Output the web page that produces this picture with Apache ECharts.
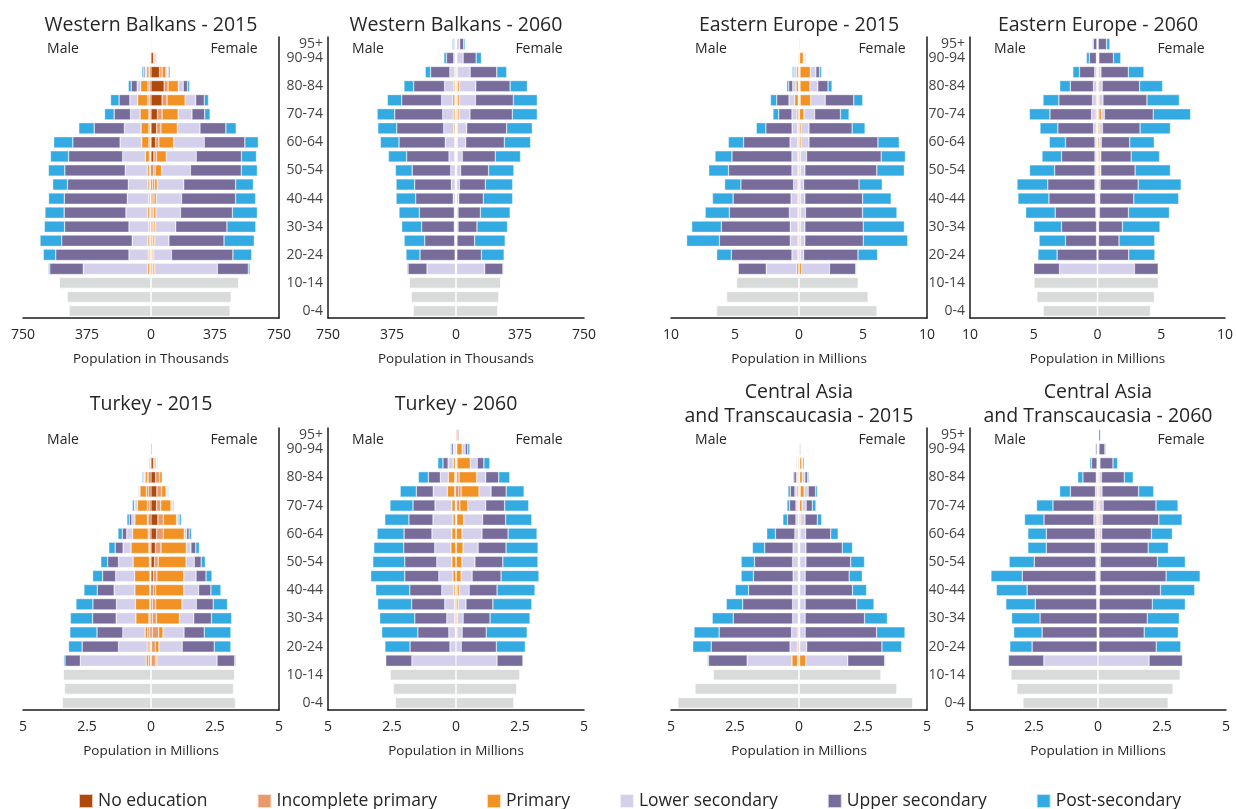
<!DOCTYPE html>
<html>
<head>
<meta charset="utf-8">
<title>Population by education</title>
<script src="https://cdn.jsdelivr.net/npm/echarts@6.0.0/dist/echarts.min.js"></script>
<style>
  html, body { margin: 0; padding: 0; background: #fff; }
  #chart { width: 1236px; height: 809px; }
</style>
</head>
<body>
<div id="chart"></div>
<script>
// age groups, bottom to top
const ages = ['0-4', '5-9', '10-14', '15-19', '20-24', '25-29', '30-34', '35-39', '40-44', '45-49',
  '50-54', '55-59', '60-64', '65-69', '70-74', '75-79', '80-84', '85-89', '90-94', '95+'];
const levels = ['No education', 'Incomplete primary', 'Primary', 'Lower secondary', 'Upper secondary', 'Post-secondary'];
const levelColors = ['#b04a0c', '#e99a6c', '#f39224', '#d4cfea', '#786c9b', '#33abe2'];
const kidsColor = '#d9dada';

// rows: 15-19 ... 95+, each [noEdu, incPrimary, primary, lowerSec, upperSec, postSec]
// Western Balkans, thousands
const wb2015Male = [
  [4,4,12,377,196,8],[4,4,8,113,429,73],[4,4,10,92,413,127],[2,4,8,115,377,119],[4,4,12,127,362,112],
  [2,4,8,125,369,92],[4,4,10,115,356,87],[4,6,12,129,354,96],[4,6,23,133,317,106],[4,8,42,127,277,112],
  [4,8,46,98,177,90],[6,6,52,56,96,56],[8,10,60,46,63,50],[8,10,42,21,35,17],[8,4,13,10,8,10],
  [2,2,5,1,2,3],[2,1,1,1,1,2]];
const wb2015Female = [
  [6,6,10,367,181,10],[4,4,8,104,360,110],[6,6,10,83,323,177],[6,8,10,121,300,169],[6,10,13,144,304,146],
  [6,12,13,148,317,117],[8,13,15,156,304,104],[12,12,38,169,298,94],[17,15,58,175,265,88],[27,19,87,179,238,79],
  [33,25,96,133,152,60],[38,27,94,81,75,31],[65,29,106,62,50,25],[77,23,60,29,25,12],[50,15,23,10,6,8],
  [15,6,8,1,3,4],[4,1,2,1,1,2]];
const wb2015Kids = { male: [481,492,538], female: [465,471,515] };

const wb2060Male = [
  [1,1,2,166,111,6],[1,1,1,2,206,82],[1,1,2,4,175,121],[1,1,2,6,191,117],[1,1,2,6,205,119],
  [1,1,2,12,220,115],[1,1,2,23,215,109],[1,1,2,27,226,98],[2,2,4,33,248,107],[2,2,4,55,271,109],
  [2,3,7,60,275,111],[2,4,10,62,281,103],[3,5,12,64,234,84],[2,3,7,55,181,57],[1,1,5,29,113,31],
  [1,1,3,8,43,15],[2,2,3,2,6,6]];
const wb2060Female = [
  [1,1,2,164,107,4],[1,1,1,2,144,133],[1,1,2,2,103,179],[1,1,2,8,111,179],[1,1,2,8,131,174],
  [1,1,2,12,144,172],[1,1,2,16,152,160],[1,1,2,23,164,148],[2,2,4,29,193,148],[2,2,4,49,226,154],
  [2,2,4,55,234,150],[2,6,10,64,248,146],[3,6,11,94,222,140],[3,6,10,97,201,101],[1,2,4,76,156,58],
  [1,1,3,37,76,31],[1,1,2,18,23,8]];
const wb2060Kids = { male: [252,263,275], female: [246,252,263] };

// Eastern Europe, millions
const ee2015Male = [
  [0.01,0.01,0.16,2.38,2.18,0],[0.01,0.01,0.06,0.47,4.74,1.14],[0.01,0.01,0.06,0.60,5.54,2.56],[0.01,0.01,0.06,0.60,5.39,2.31],
  [0.01,0.01,0.06,0.67,4.69,1.89],[0.01,0.01,0.06,0.54,4.53,1.61],[0.01,0.01,0.06,0.34,4.12,1.27],[0.01,0.01,0.06,0.47,4.95,1.55],
  [0.01,0.01,0.06,0.47,4.69,1.32],[0.01,0.02,0.07,0.60,3.63,1.19],[0.01,0.02,0.07,0.44,2.05,0.75],[0.01,0.02,0.13,0.39,1.04,0.44],
  [0.02,0.04,0.28,0.44,0.96,0.49],[0.02,0.03,0.18,0.26,0.31,0.16],[0.02,0.02,0.14,0.18,0.10,0.08],[0.01,0.01,0.06,0.03,0.03,0.02],
  [0.005,0.005,0.02,0.01,0.01,0.01]];
const ee2015Female = [
  [0.01,0.01,0.18,2.18,2.07,0.05],[0.01,0.01,0.08,0.26,4.25,1.53],[0.01,0.01,0.08,0.36,4.56,3.47],[0.01,0.01,0.08,0.36,4.56,3.21],
  [0.01,0.01,0.08,0.41,4.45,2.69],[0.01,0.01,0.08,0.36,4.51,2.23],[0.01,0.01,0.06,0.28,4.33,1.81],[0.01,0.01,0.08,0.36,5.62,2.15],
  [0.01,0.01,0.08,0.49,5.83,1.89],[0.01,0.02,0.13,0.62,5.39,1.66],[0.01,0.02,0.13,0.62,3.37,1.01],[0.01,0.03,0.35,0.83,2.02,0.67],
  [0.03,0.06,0.82,1.14,2.23,0.70],[0.03,0.05,0.77,0.62,0.80,0.31],[0.03,0.05,0.80,0.44,0.28,0.16],[0.02,0.03,0.28,0.08,0.05,0.06],
  [0.01,0.01,0.06,0.02,0.02,0.02]];
const ee2015Kids = { male: [6.45,5.67,4.90], female: [6.11,5.41,4.64] };

const ee2060Male = [
  [0.005,0.005,0.01,2.96,2.02,0],[0.005,0.005,0.01,0.02,3.13,1.50],[0.01,0.01,0.02,0.04,2.43,2.07],[0.01,0.01,0.02,0.03,2.75,2.18],
  [0.01,0.01,0.03,0.08,3.19,2.31],[0.01,0.01,0.04,0.10,3.65,2.43],[0.01,0.01,0.05,0.13,3.70,2.41],[0.01,0.01,0.05,0.13,3.16,1.97],
  [0.01,0.01,0.05,0.13,2.62,1.53],[0.01,0.01,0.05,0.13,2.31,1.27],[0.02,0.02,0.06,0.21,2.80,1.40],[0.02,0.02,0.07,0.36,3.26,1.61],
  [0.01,0.01,0.06,0.31,2.64,1.24],[0.01,0.01,0.04,0.26,1.81,0.83],[0.01,0.01,0.04,0.16,1.19,0.52],[0.005,0.005,0.02,0.06,0.55,0.23],
  [0.005,0.005,0.01,0.03,0.28,0.06]];
const ee2060Female = [
  [0.005,0.005,0.01,2.88,1.87,0.02],[0.005,0.005,0.01,0.02,2.41,2.05],[0.01,0.01,0.03,0.03,1.61,2.80],[0.01,0.01,0.03,0.03,1.87,2.95],
  [0.01,0.01,0.04,0.09,2.28,3.21],[0.01,0.02,0.05,0.10,2.67,3.52],[0.01,0.02,0.06,0.12,2.98,3.37],[0.01,0.02,0.08,0.15,2.69,2.77],
  [0.01,0.02,0.08,0.15,2.38,2.23],[0.01,0.03,0.10,0.16,2.23,1.92],[0.02,0.04,0.12,0.21,2.95,2.38],[0.03,0.08,0.20,0.23,3.83,2.93],
  [0.02,0.04,0.06,0.31,3.45,2.54],[0.01,0.02,0.06,0.28,2.93,1.81],[0.01,0.02,0.06,0.18,2.15,1.22],[0.005,0.01,0.03,0.06,1.15,0.57],
  [0.005,0.005,0.02,0.03,0.65,0.26]];
const ee2060Kids = { male: [4.27,4.77,5.00], female: [4.17,4.48,4.79] };

// Turkey, millions
const tr2015Male = [
  [0.02,0.08,0.09,2.57,0.60,0.05],[0.02,0.06,0.07,1.12,1.42,0.53],[0.05,0.08,0.10,0.87,1.01,1.06],[0.04,0.04,0.51,0.77,0.92,0.87],
  [0.03,0.02,0.56,0.74,0.92,0.66],[0.03,0.02,0.58,0.81,0.66,0.52],[0.02,0.02,0.60,0.74,0.51,0.39],[0.03,0.03,0.64,0.57,0.42,0.27],
  [0.04,0.04,0.70,0.31,0.31,0.25],[0.05,0.06,0.61,0.23,0.17,0.17],[0.08,0.06,0.49,0.12,0.10,0.09],[0.06,0.08,0.39,0.10,0.02,0.08],
  [0.08,0.10,0.25,0.04,0.01,0.03],[0.08,0.06,0.09,0.04,0.02,0.05],[0.03,0.02,0.04,0.02,0.01,0.02],[0.02,0.01,0.02,0.005,0.005,0.02],
  [0.01,0.005,0.005,0.002,0.002,0.01]];
const tr2015Female = [
  [0.01,0.16,0.06,2.35,0.69,0.04],[0.02,0.15,0.14,0.91,1.25,0.65],[0.05,0.25,0.17,0.82,0.79,1.04],[0.05,0.16,0.90,0.56,0.69,0.79],
  [0.05,0.13,1.03,0.56,0.66,0.56],[0.08,0.10,1.10,0.58,0.48,0.39],[0.09,0.14,1.05,0.48,0.39,0.23],[0.14,0.14,1.09,0.32,0.27,0.16],
  [0.17,0.22,0.99,0.18,0.19,0.14],[0.22,0.26,0.82,0.09,0.10,0.09],[0.27,0.21,0.52,0.06,0.04,0.08],[0.22,0.16,0.40,0.05,0.03,0.04],
  [0.23,0.18,0.18,0.04,0.03,0.03],[0.18,0.16,0.10,0.02,0.01,0.02],[0.10,0.05,0.05,0.02,0.01,0.03],[0.04,0.01,0.02,0.003,0.003,0.01],
  [0.02,0.01,0.01,0.002,0.002,0.01]];
const tr2015Kids = { male: [3.47,3.39,3.43], female: [3.31,3.23,3.27] };

const tr2060Male = [
  [0.001,0.001,0.001,1.72,1.02,0],[0.002,0.002,0.002,0.23,1.56,0.98],[0.005,0.005,0.02,0.25,1.21,1.41],[0.005,0.005,0.04,0.31,1.25,1.37],
  [0.005,0.005,0.04,0.39,1.29,1.33],[0.005,0.02,0.06,0.47,1.25,1.33],[0.005,0.005,0.11,0.55,1.33,1.33],[0.005,0.005,0.15,0.59,1.25,1.25],
  [0.005,0.005,0.19,0.63,1.21,1.17],[0.005,0.005,0.15,0.78,1.09,1.05],[0.01,0.01,0.10,0.78,0.94,0.94],[0.02,0.01,0.13,0.66,0.86,0.90],
  [0.03,0.02,0.29,0.55,0.66,0.63],[0.03,0.02,0.25,0.31,0.47,0.39],[0.02,0.01,0.08,0.20,0.20,0.20],[0.005,0.01,0.04,0.05,0.07,0.04],
  [0.005,0.005,0.02,0.005,0.005,0.01]];
const tr2060Female = [
  [0.001,0.001,0.001,1.60,1.02,0],[0.002,0.002,0.002,0.20,1.37,1.13],[0.005,0.005,0.03,0.20,0.94,1.60],[0.005,0.005,0.04,0.23,1.05,1.56],
  [0.005,0.005,0.07,0.31,1.05,1.52],[0.005,0.04,0.08,0.39,1.09,1.48],[0.005,0.005,0.19,0.43,1.13,1.48],[0.005,0.005,0.22,0.51,1.09,1.37],
  [0.005,0.01,0.26,0.59,1.09,1.25],[0.005,0.01,0.22,0.78,1.02,1.13],[0.01,0.02,0.27,0.74,0.90,1.02],[0.02,0.13,0.31,0.70,0.74,0.94],
  [0.08,0.12,0.70,0.47,0.59,0.70],[0.02,0.10,0.69,0.35,0.51,0.43],[0.01,0.03,0.52,0.27,0.26,0.23],[0.01,0.02,0.21,0.12,0.10,0.08],
  [0.005,0.01,0.06,0.01,0.04,0.02]];
const tr2060Kids = { male: [2.38,2.46,2.58], female: [2.27,2.38,2.50] };

// Central Asia and Transcaucasia, millions
const ca2015Male = [
  [0.005,0.05,0.22,1.75,1.51,0.04],[0.005,0.005,0.05,0.29,3.08,0.72],[0.005,0.005,0.03,0.25,2.83,0.98],[0.005,0.005,0.02,0.22,2.32,0.82],
  [0.005,0.005,0.02,0.22,1.95,0.64],[0.005,0.005,0.02,0.22,1.72,0.52],[0.005,0.005,0.02,0.20,1.55,0.48],[0.005,0.005,0.02,0.22,1.49,0.52],
  [0.005,0.005,0.02,0.20,1.11,0.48],[0.005,0.005,0.02,0.13,0.76,0.34],[0.005,0.005,0.02,0.09,0.33,0.18],[0.005,0.005,0.03,0.08,0.25,0.10],
  [0.01,0.01,0.06,0.08,0.18,0.09],[0.01,0.01,0.04,0.04,0.10,0.04],[0.01,0.01,0.03,0.02,0.03,0.02],[0.005,0.005,0.02,0.01,0.02,0.01],
  [0.005,0.005,0.01,0.01,0.01,0.01]];
const ca2015Female = [
  [0.005,0.02,0.24,1.64,1.44,0.03],[0.005,0.005,0.02,0.27,2.94,0.77],[0.005,0.005,0.02,0.21,2.79,1.11],[0.005,0.005,0.02,0.21,2.32,0.89],
  [0.005,0.005,0.02,0.21,2.01,0.68],[0.005,0.005,0.02,0.21,1.85,0.55],[0.005,0.005,0.02,0.21,1.72,0.51],[0.005,0.005,0.02,0.24,1.75,0.54],
  [0.005,0.005,0.02,0.24,1.42,0.40],[0.005,0.005,0.03,0.22,0.98,0.29],[0.005,0.01,0.05,0.17,0.48,0.17],[0.01,0.01,0.10,0.16,0.24,0.14],
  [0.02,0.03,0.15,0.16,0.29,0.07],[0.01,0.02,0.10,0.10,0.10,0.05],[0.01,0.02,0.08,0.04,0.05,0.02],[0.01,0.01,0.03,0.01,0.03,0.01],
  [0.01,0.01,0.02,0.01,0.02,0.01]];
const ca2015Kids = { male: [4.74,4.07,3.36], female: [4.45,3.83,3.21] };

const ca2060Male = [
  [0.002,0.002,0.002,2.11,1.38,0.03],[0.002,0.002,0.01,0.02,2.54,0.87],[0.002,0.002,0.01,0.02,2.15,1.11],[0.002,0.002,0.01,0.02,2.23,1.11],
  [0.005,0.005,0.01,0.03,2.40,1.15],[0.005,0.005,0.01,0.04,2.71,1.20],[0.005,0.005,0.02,0.05,2.88,1.22],[0.005,0.005,0.02,0.05,2.41,0.98],
  [0.005,0.005,0.02,0.08,1.91,0.72],[0.005,0.005,0.02,0.08,1.91,0.72],[0.005,0.005,0.03,0.12,1.95,0.76],[0.005,0.005,0.03,0.12,1.60,0.64],
  [0.005,0.005,0.02,0.07,0.98,0.42],[0.005,0.005,0.01,0.05,0.52,0.20],[0.005,0.005,0.01,0.02,0.21,0.07],[0.005,0.005,0.01,0.02,0.05,0.03],
  [0.005,0.005,0.005,0.01,0.02,0.02]];
const ca2060Female = [
  [0.002,0.002,0.002,1.99,1.30,0.03],[0.002,0.002,0.01,0.02,2.24,0.96],[0.002,0.002,0.01,0.02,1.77,1.33],[0.002,0.002,0.01,0.02,1.89,1.25],
  [0.005,0.005,0.01,0.03,2.07,1.29],[0.005,0.005,0.01,0.04,2.38,1.34],[0.005,0.005,0.02,0.05,2.58,1.33],[0.005,0.005,0.02,0.06,2.23,1.09],
  [0.005,0.005,0.03,0.06,1.86,0.79],[0.005,0.01,0.04,0.09,1.94,0.82],[0.005,0.01,0.05,0.10,2.21,0.91],[0.005,0.01,0.05,0.14,2.06,0.86],
  [0.005,0.01,0.04,0.10,1.43,0.59],[0.005,0.01,0.03,0.09,0.89,0.35],[0.005,0.01,0.02,0.04,0.51,0.18],[0.005,0.005,0.01,0.02,0.23,0.04],
  [0.005,0.005,0.01,0.01,0.06,0.03]];
const ca2060Kids = { male: [2.94,3.18,3.41], female: [2.75,2.94,3.22] };

// panels in reading order: top row then bottom row
const panels = [
  { title: 'Western Balkans - 2015', male: wb2015Male, female: wb2015Female, kids: wb2015Kids, max: 750, unit: 'Thousands' },
  { title: 'Western Balkans - 2060', male: wb2060Male, female: wb2060Female, kids: wb2060Kids, max: 750, unit: 'Thousands' },
  { title: 'Eastern Europe - 2015', male: ee2015Male, female: ee2015Female, kids: ee2015Kids, max: 10, unit: 'Millions' },
  { title: 'Eastern Europe - 2060', male: ee2060Male, female: ee2060Female, kids: ee2060Kids, max: 10, unit: 'Millions' },
  { title: 'Turkey - 2015', male: tr2015Male, female: tr2015Female, kids: tr2015Kids, max: 5, unit: 'Millions' },
  { title: 'Turkey - 2060', male: tr2060Male, female: tr2060Female, kids: tr2060Kids, max: 5, unit: 'Millions' },
  { title: 'Central Asia\nand Transcaucasia - 2015', male: ca2015Male, female: ca2015Female, kids: ca2015Kids, max: 5, unit: 'Millions' },
  { title: 'Central Asia\nand Transcaucasia - 2060', male: ca2060Male, female: ca2060Female, kids: ca2060Kids, max: 5, unit: 'Millions' }
];

// layout
const colLeft = [23, 328, 671, 970];
const rowTop = [37, 428];
const rowHeight = [281, 282];
const plotWidth = 256;
const titleY = [25, 404];
const FONT = '"Open Sans", sans-serif';
const TEXT = '#262626';

const chart = echarts.init(document.getElementById('chart'));

const grids = [], xAxes = [], yAxes = [], series = [], graphics = [];

panels.forEach((p, k) => {
  const row = Math.floor(k / 4), col = k % 4;
  const left = colLeft[col];
  const isLeft = col % 2 === 0;

  grids.push({ left: left, top: rowTop[row], width: plotWidth, height: rowHeight[row] });

  xAxes.push({
    gridIndex: k, type: 'value',
    min: -p.max, max: p.max, interval: p.max / 2,
    name: 'Population in ' + p.unit, nameLocation: 'middle', nameGap: 34,
    nameTextStyle: { fontFamily: FONT, fontSize: 13.5, color: TEXT },
    axisLine: { show: true, onZero: false, lineStyle: { color: '#1a1a1a', width: 1.5 } },
    axisTick: { show: false },
    splitLine: { show: false },
    axisLabel: {
      fontFamily: FONT, fontSize: 14, color: TEXT, margin: 10,
      showMinLabel: true, showMaxLabel: true,
      formatter: v => String(Math.abs(v))
    }
  });

  yAxes.push({
    gridIndex: k, type: 'category', data: ages,
    position: isLeft ? 'right' : 'left',
    axisLine: { show: true, onZero: false, lineStyle: { color: '#1a1a1a', width: 1.5 } },
    axisTick: { show: false },
    splitLine: { show: false },
    axisLabel: {
      show: !isLeft, margin: 5,
      fontFamily: FONT, fontSize: 14, color: '#444', lineHeight: 14,
      interval: (i) => i % 2 === 0 || i === ages.length - 1
    }
  });

  const base = { type: 'bar', xAxisIndex: k, yAxisIndex: k, stack: 'pyr' + k, barCategoryGap: '20%', silent: true };

  levels.forEach((lv, i) => {
    const style = { color: levelColors[i], borderColor: 'rgba(255,255,255,0.7)', borderWidth: 0.5 };
    series.push(Object.assign({}, base, {
      name: lv, itemStyle: style,
      data: ages.map((a, j) => j < 3 ? null : -p.male[j - 3][i])
    }));
    series.push(Object.assign({}, base, {
      name: lv, itemStyle: style,
      data: ages.map((a, j) => j < 3 ? null : p.female[j - 3][i])
    }));
  });
  const kidStyle = { color: kidsColor, borderColor: '#fff', borderWidth: 0.7 };
  series.push(Object.assign({}, base, {
    name: 'Under 15', itemStyle: kidStyle,
    data: ages.map((a, j) => j < 3 ? -p.kids.male[j] : null)
  }));
  series.push(Object.assign({}, base, {
    name: 'Under 15', itemStyle: kidStyle,
    data: ages.map((a, j) => j < 3 ? p.kids.female[j] : null)
  }));

  graphics.push({
    type: 'text', x: left + plotWidth / 2, y: titleY[row],
    style: { text: p.title, textAlign: 'center', textVerticalAlign: 'middle',
      fontFamily: FONT, fontSize: 19.5, lineHeight: 24, fill: TEXT }
  });
  const sexY = rowTop[row] + 12;
  graphics.push({
    type: 'text', x: left + 40, y: sexY,
    style: { text: 'Male', textAlign: 'center', textVerticalAlign: 'middle', fontFamily: FONT, fontSize: 14, fill: TEXT }
  });
  graphics.push({
    type: 'text', x: left + 211, y: sexY,
    style: { text: 'Female', textAlign: 'center', textVerticalAlign: 'middle', fontFamily: FONT, fontSize: 14, fill: TEXT }
  });
});

chart.setOption({
  animation: false,
  backgroundColor: '#fff',
  textStyle: { fontFamily: FONT },
  grid: grids,
  xAxis: xAxes,
  yAxis: yAxes,
  legend: {
    data: levels,
    left: 78, top: 792, padding: 0,
    icon: 'rect', itemWidth: 14, itemHeight: 14, itemGap: 49,
    textStyle: { fontFamily: FONT, fontSize: 17.5, color: TEXT }
  },
  graphic: graphics,
  series: series
});
</script>
</body>
</html>
